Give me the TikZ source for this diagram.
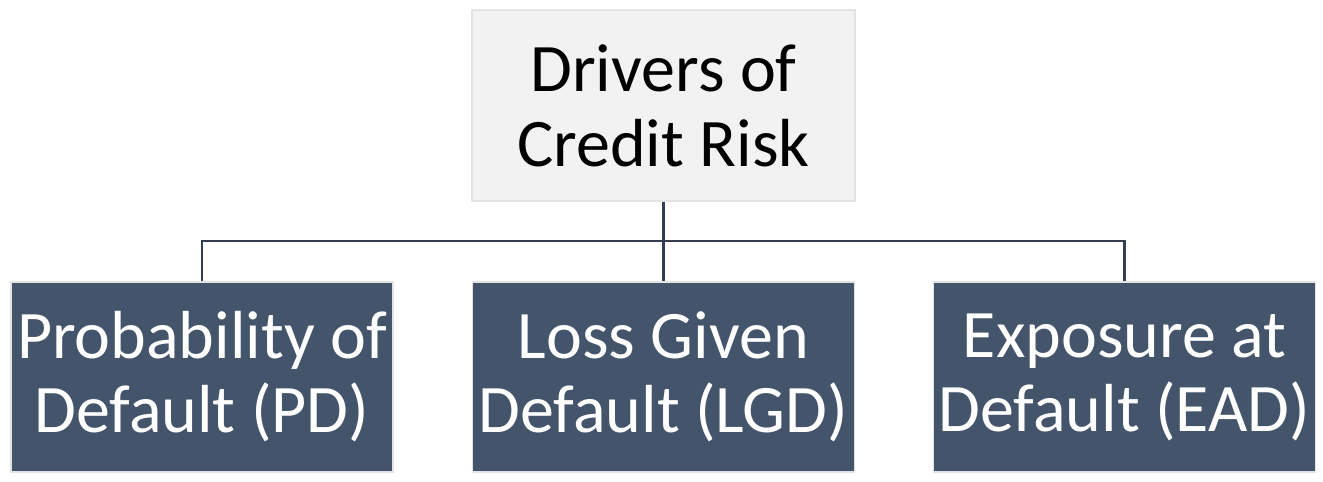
\documentclass[tikz,border=0pt]{standalone}
\usepackage{fontspec}
\setmainfont{Carlito}
\definecolor{topfill}{HTML}{F2F2F2}
\definecolor{boxborder}{HTML}{E3E3E3}
\definecolor{slate}{HTML}{44546A}
\definecolor{linecol}{HTML}{333F50}
\begin{document}
\begin{tikzpicture}[x=1pt,y=-1pt,
  topbox/.style={draw=boxborder, line width=1.5pt, fill=topfill, minimum width=383pt, minimum height=191pt, inner sep=0pt, align=center, text=black, font=\fontsize{68}{75}\selectfont},
  leafbox/.style={draw=boxborder, line width=1.5pt, fill=slate, minimum width=382pt, minimum height=190pt, inner sep=0pt, align=center, text=white, font=\fontsize{68}{74}\selectfont},
  conn/.style={draw=linecol, line width=2.2pt}]
\useasboundingbox (0,0) rectangle (1323,482);
\node[topbox] (root) at (663.5,105.5) {Drivers of\\Credit Risk};
\node[leafbox] (pd) at (202,377) {Probability of\\Default (PD)};
\node[leafbox] (lgd) at (663.5,377) {Loss Given\\Default (LGD)};
\node[leafbox] (ead) at (1124.5,377) {Exposure at\\Default (EAD)};
\coordinate (bus) at (663,241);
\draw[conn] (root.south) -- (lgd.north);
\draw[conn] (pd.north) |- (bus) -| (ead.north);
\end{tikzpicture}
\end{document}
